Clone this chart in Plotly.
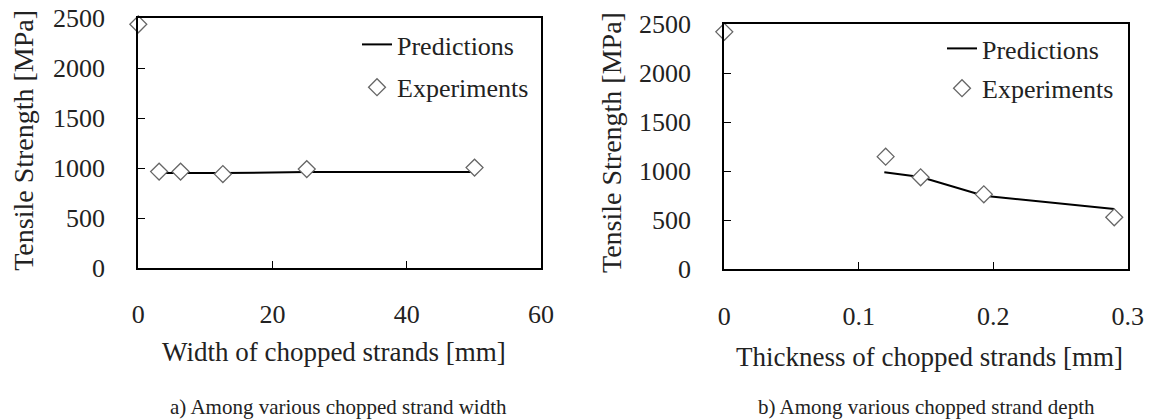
import plotly.graph_objects as go

# ---- data ----
width_exp_x = [0, 3.1, 6.3, 12.6, 25.1, 50.1]
width_exp_y = [2440, 965, 965, 940, 990, 1005]
width_pred_x = [3.1, 6.3, 12.6, 25.1, 50.1]
width_pred_y = [950, 950, 950, 962, 962]

thick_exp_x = [0, 0.12, 0.146, 0.193, 0.29]
thick_exp_y = [2420, 1148, 938, 764, 530]
thick_pred_x = [0.119, 0.146, 0.193, 0.29]
thick_pred_y = [990, 940, 750, 615]

width_ticks = [0, 20, 40, 60]
thick_ticks = [0, 0.1, 0.2, 0.3]
thick_tick_text = ["0", "0.1", "0.2", "0.3"]
y_ticks = [0, 500, 1000, 1500, 2000, 2500]

W, H = 1153, 420
FONT = "Liberation Serif"
TXT = "#222222"

fig = go.Figure()

pred_line = dict(color="black", width=2)
exp_marker = dict(symbol="diamond", size=13, color="white",
                  line=dict(color="#666666", width=1.3))

fig.add_trace(go.Scatter(x=width_pred_x, y=width_pred_y, mode="lines",
                         line=pred_line, name="Predictions",
                         xaxis="x", yaxis="y", legend="legend",
                         legendgroup="a1"))
fig.add_trace(go.Scatter(x=width_exp_x, y=width_exp_y, mode="markers",
                         marker=exp_marker, name="Experiments", cliponaxis=False,
                         xaxis="x", yaxis="y", legend="legend",
                         legendgroup="a2"))
fig.add_trace(go.Scatter(x=thick_pred_x, y=thick_pred_y, mode="lines",
                         line=pred_line, name="Predictions",
                         xaxis="x2", yaxis="y2", legend="legend2",
                         legendgroup="b1"))
fig.add_trace(go.Scatter(x=thick_exp_x, y=thick_exp_y, mode="markers",
                         marker=exp_marker, name="Experiments", cliponaxis=False,
                         xaxis="x2", yaxis="y2", legend="legend2",
                         legendgroup="b2"))

def px_dom_x(a, b):
    return [a / W, b / W]

def px_dom_y(top, bottom):
    return [1 - bottom / H, 1 - top / H]

axis_common = dict(showline=True, mirror=True, linecolor="black", linewidth=2,
                   ticks="inside", ticklen=7, tickcolor="black", tickwidth=1,
                   showgrid=False, zeroline=False, automargin=False,
                   tickfont=dict(family=FONT, size=26, color=TXT))

def ann(text, x, y, size=27, angle=0):
    return dict(text=text, x=x / W, y=1 - y / H, xref="paper", yref="paper",
                showarrow=False, xanchor="center", yanchor="middle",
                textangle=angle, font=dict(family=FONT, size=size, color=TXT))

fig.update_layout(
    width=W, height=H,
    margin=dict(l=0, r=0, t=0, b=0, pad=0),
    paper_bgcolor="white", plot_bgcolor="white",
    font=dict(family=FONT, size=26, color=TXT),
    xaxis=dict(domain=px_dom_x(138.3, 541), range=[0, 60], tickvals=width_ticks,
               ticklabelstandoff=22, anchor="y", **axis_common),
    yaxis=dict(domain=px_dom_y(18.3, 268), range=[0, 2500], tickvals=y_ticks,
               ticklabelstandoff=26, anchor="x", **axis_common),
    xaxis2=dict(domain=px_dom_x(724.3, 1127.7), range=[0, 0.3], tickvals=thick_ticks,
                ticktext=thick_tick_text, ticklabelstandoff=22,
                anchor="y2", **axis_common),
    yaxis2=dict(domain=px_dom_y(24, 269.3), range=[0, 2500], tickvals=y_ticks,
                ticklabelstandoff=26, anchor="x2", **axis_common),
    legend=dict(x=357 / W, y=1 - 21 / H, xanchor="left", yanchor="top",
                bgcolor="rgba(0,0,0,0)", borderwidth=0,
                font=dict(family=FONT, size=26, color=TXT),
                tracegroupgap=6, itemwidth=30),
    legend2=dict(x=942 / W, y=1 - 25 / H, xanchor="left", yanchor="top",
                 bgcolor="rgba(0,0,0,0)", borderwidth=0,
                 font=dict(family=FONT, size=26, color=TXT),
                 tracegroupgap=3, itemwidth=30),
    annotations=[
        ann("Tensile Strength [MPa]", 23.3, 140.5, size=28, angle=-90),
        ann("Tensile Strength [MPa]", 611, 143, size=28, angle=-90),
        ann("Width of chopped strands [mm]", 334, 351.7),
        ann("Thickness of chopped strands [mm]", 929, 356.7),
        ann("a) Among various chopped strand width", 338, 406.7, size=21),
        ann("b) Among various chopped strand depth", 926, 406.7, size=21),
    ],
)

fig.write_html("out.html")
